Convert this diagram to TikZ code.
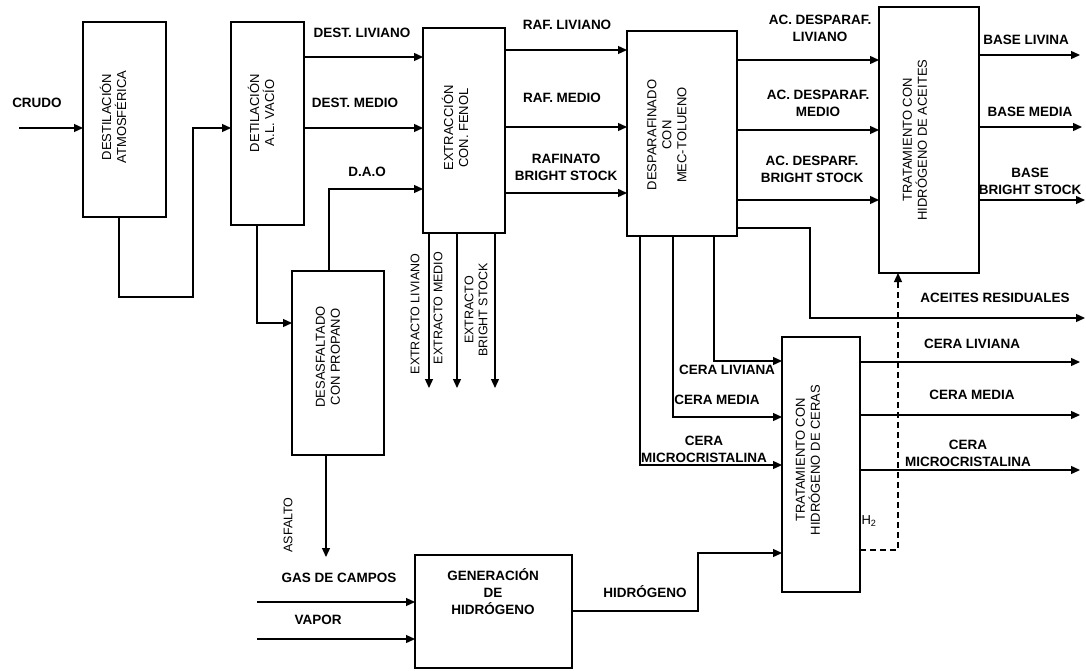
\documentclass[tikz,border=0pt]{standalone}
\usepackage{fontspec}
\setmainfont{Liberation Sans}
\usetikzlibrary{arrows.meta}
\begin{document}
\begin{tikzpicture}[x=1pt,y=-1pt,
  box/.style={draw, line width=1.3pt, inner sep=0pt, outer sep=0pt},
  btxt/.style={rotate=90, align=center, inner sep=0pt, font=\fontsize{13}{15}\selectfont},
  rtxt/.style={rotate=90, align=center, inner sep=0pt, font=\fontsize{12.5}{14}\selectfont},
  lbl/.style={align=center, inner sep=0pt, font=\fontsize{13.5}{17}\selectfont\bfseries},
  ln/.style={line width=1.3pt},
  arr/.style={line width=1.3pt, -{Triangle[length=9pt,width=8pt]}},
  darr/.style={line width=1.3pt, dash pattern=on 6pt off 4pt, -{Triangle[length=9pt,width=8pt]}}]
\useasboundingbox (0,0) rectangle (1086,671);
% boxes
\node[box, minimum width=83pt, minimum height=195pt] (atm) at (124.5,119.5) {};
\node[box, minimum width=73pt, minimum height=203pt] (vac) at (267.5,123.5) {};
\node[box, minimum width=92pt, minimum height=184pt] (das) at (338,363) {};
\node[box, minimum width=82pt, minimum height=205pt] (ext) at (464,130.5) {};
\node[box, minimum width=110pt, minimum height=205pt] (desp) at (682,133.5) {};
\node[box, minimum width=100pt, minimum height=266pt] (trat) at (929,140) {};
\node[box, minimum width=78pt, minimum height=255pt] (cera) at (821,464.5) {};
\node[box, minimum width=157pt, minimum height=113pt] (gen) at (493.5,611.5) {};
% box texts
\node[btxt] (atmT) at (113,117) {DESTILACIÓN\\ATMOSFÉRICA};
\node[btxt] (vacT) at (261,113) {DETILACIÓN\\A.L. VACÍO};
\node[btxt] (dasT) at (328,357) {DESASFALTADO\\CON PROPANO};
\node[btxt] (extT) at (455,128) {EXTRACCIÓN\\CON. FENOL};
\node[btxt] (despT) at (667,135) {DESPARAFINADO\\CON\\MEC-TOLUENO};
\node[btxt] (tratT) at (915,140) {TRATAMIENTO CON\\HIDRÓGENO DE ACEITES};
\node[btxt] (ceraT) at (808,460) {TRATAMIENTO CON\\HIDRÓGENO DE CERAS};
\node[lbl] (genT) at (493,592) {GENERACIÓN\\DE\\HIDRÓGENO};
% labels
\node[lbl] (lCrudo) at (37,103) {CRUDO};
\node[lbl] (lDL) at (362,33) {DEST. LIVIANO};
\node[lbl] (lDM) at (355,103) {DEST. MEDIO};
\node[lbl] (lDAO) at (367,172) {D.A.O};
\node[lbl] (lRL) at (567,25) {RAF. LIVIANO};
\node[lbl] (lRM) at (562,98) {RAF. MEDIO};
\node[lbl] (lRB) at (566,167) {RAFINATO\\BRIGHT STOCK};
\node[lbl] (lAL) at (820,28) {AC. DESPARAF.\\LIVIANO};
\node[lbl] (lAM) at (818,103) {AC. DESPARAF.\\MEDIO};
\node[lbl] (lAB) at (812,169) {AC. DESPARF.\\BRIGHT STOCK};
\node[lbl] (lBL) at (1026,40) {BASE LIVINA};
\node[lbl] (lBM) at (1030,112) {BASE MEDIA};
\node[lbl] (lBB) at (1030,181) {BASE\\BRIGHT STOCK};
\node[lbl] (lAR) at (995,298) {ACEITES RESIDUALES};
\node[lbl] (lCL1) at (727,370) {CERA LIVIANA};
\node[lbl] (lCM1) at (717,400) {CERA MEDIA};
\node[lbl] (lCX1) at (704,449) {CERA\\MICROCRISTALINA};
\node[lbl] (lCL2) at (972,344) {CERA LIVIANA};
\node[lbl] (lCM2) at (972,395) {CERA MEDIA};
\node[lbl] (lCX2) at (968,453) {CERA\\MICROCRISTALINA};
\node[inner sep=0pt, font=\fontsize{13}{15}\selectfont] (lH2) at (869,521) {H\textsubscript{2}};
\node[lbl] (lGas) at (339,578) {GAS DE CAMPOS};
\node[lbl] (lVap) at (318,620) {VAPOR};
\node[lbl] (lHid) at (645,592) {HIDRÓGENO};
\node[rtxt] (lAsf) at (288,525) {ASFALTO};
\node[rtxt] (lEL) at (415,314) {EXTRACTO LIVIANO};
\node[rtxt] (lEM) at (438,308) {EXTRACTO MEDIO};
\node[rtxt] (lEB) at (476,310) {EXTRACTO\\BRIGHT STOCK};
% free ends
\coordinate (crudoIn) at (19,128);
\coordinate (asfEnd) at (326,557);
\coordinate (eL) at (429,388);
\coordinate (eM) at (457,388);
\coordinate (eB) at (495,388);
\coordinate (bL) at (1080,55);
\coordinate (bM) at (1082,127);
\coordinate (bB) at (1085,200);
\coordinate (aR) at (1085,318);
\coordinate (cL) at (1080,362);
\coordinate (cM) at (1080,415);
\coordinate (cX) at (1080,470);
\coordinate (gasIn) at (257,602);
\coordinate (vapIn) at (257,639);
% connectors
\draw[arr] (crudoIn) -- (crudoIn -| atm.west);
\draw[arr] (atm.south -| 119,0) |- (193,297) |- (vac.west |- 0,128);
\draw[arr] (vac.east |- 0,57) -- (ext.west |- 0,57);
\draw[arr] (vac.east |- 0,128) -- (ext.west |- 0,128);
\draw[arr] (vac.south -| 257,0) |- (das.west |- 0,323);
\draw[arr] (das.north -| 329,0) |- (ext.west |- 0,189);
\draw[arr] (das.south -| 326,0) -- (asfEnd);
\draw[arr] (ext.east |- 0,50) -- (desp.west |- 0,50);
\draw[arr] (ext.east |- 0,127) -- (desp.west |- 0,127);
\draw[arr] (ext.east |- 0,193) -- (desp.west |- 0,193);
\draw[arr] (ext.south -| eL) -- (eL);
\draw[arr] (ext.south -| eM) -- (eM);
\draw[arr] (ext.south -| eB) -- (eB);
\draw[arr] (desp.east |- 0,60) -- (trat.west |- 0,60);
\draw[arr] (desp.east |- 0,130) -- (trat.west |- 0,130);
\draw[arr] (desp.east |- 0,200) -- (trat.west |- 0,200);
\draw[arr] (desp.east |- 0,228) -| (810,318) -- (aR);
\draw[arr] (trat.east |- bL) -- (bL);
\draw[arr] (trat.east |- bM) -- (bM);
\draw[arr] (trat.east |- bB) -- (bB);
\draw[arr] (desp.south -| 714,0) |- (cera.west |- 0,361);
\draw[arr] (desp.south -| 673,0) |- (cera.west |- 0,417);
\draw[arr] (desp.south -| 640,0) |- (cera.west |- 0,465);
\draw[arr] (cera.east |- cL) -- (cL);
\draw[arr] (cera.east |- cM) -- (cM);
\draw[arr] (cera.east |- cX) -- (cX);
\draw[darr] (cera.east |- 0,550) -| (trat.south -| 898,0);
\draw[arr] (gasIn) -- (gasIn -| gen.west);
\draw[arr] (vapIn) -- (vapIn -| gen.west);
\draw[arr] (gen.east |- 0,611) -| (698,553) -- (cera.west |- 0,553);
\end{tikzpicture}
\end{document}
